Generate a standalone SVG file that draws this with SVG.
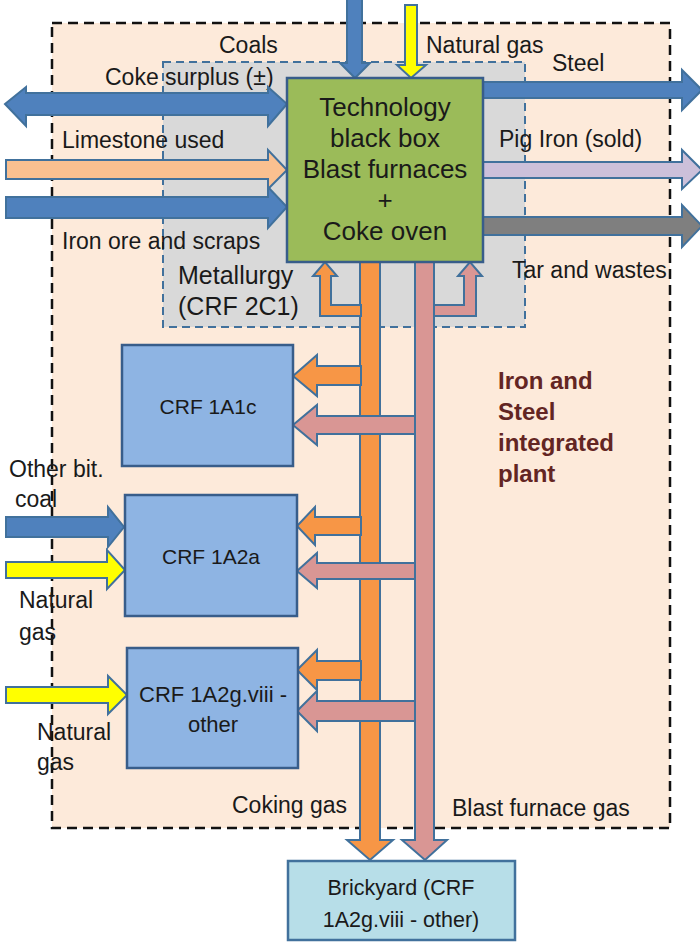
<svg xmlns="http://www.w3.org/2000/svg" width="700" height="945" viewBox="0 0 700 945">
<style>
text{font-family:"Liberation Sans",Arial,sans-serif;fill:#1a1a1a;font-size:23px}
.ar{stroke:#41719C;stroke-width:2;stroke-linejoin:miter}
.blue{fill:#4F81BD}.org{fill:#F79646}.pink{fill:#D99694}.peach{fill:#FAC090}
.lav{fill:#CCC0DA}.gray{fill:#7F7F7F}.yel{fill:#FFFF00}
.box{fill:#8EB4E3;stroke:#385D8A;stroke-width:2.5}
.c{text-anchor:middle}
.bold{font-weight:bold;fill:#632523;font-size:24px}
.big{font-size:25px}
</style>
<rect width="700" height="945" fill="#ffffff"/>
<g id="plant">
<rect x="52" y="23" width="618" height="805" fill="#FDEADA" stroke="#111" stroke-width="2.5" stroke-dasharray="10,6"/>
<text class="bold" x="498" y="389">Iron and</text>
<text class="bold" x="498" y="420">Steel</text>
<text class="bold" x="498" y="451">integrated</text>
<text class="bold" x="498" y="482">plant</text>
</g>
<g id="metallurgy">
<rect x="163" y="62" width="362" height="265" fill="#D9D9D9" stroke="#41719C" stroke-width="2" stroke-dasharray="8,5"/>
<text class="big" x="178" y="284">Metallurgy</text>
<text class="big" x="178" y="315">(CRF 2C1)</text>
</g>
<g id="labels">
<text x="219" y="53">Coals</text>
<text x="426" y="53">Natural gas</text>
<text x="105" y="85">Coke surplus (±)</text>
<text x="62" y="148">Limestone used</text>
<text x="62" y="249">Iron ore and scraps</text>
<text x="552" y="71">Steel</text>
<text x="499" y="147">Pig Iron (sold)</text>
<text x="512" y="278">Tar and wastes</text>
<text x="9" y="477">Other bit.</text>
<text x="15" y="507">coal</text>
<text x="19" y="608">Natural</text>
<text x="19" y="640">gas</text>
<text x="37" y="740">Natural</text>
<text x="37" y="770">gas</text>
<text x="232" y="813">Coking gas</text>
<text x="452" y="816">Blast furnace gas</text>
</g>
<g id="connectors">
<polygon class="ar blue" points="347,-3 362,-3 362,63 370,63 355,78 340,63 347,63"/>
<polygon class="ar yel" points="405,5 417,5 417,65 426,65 411,78 397,65 405,65"/>
<polygon class="ar blue" points="5,104 26,87 26,93 268,93 268,87 287,104 268,126 268,115 26,115 26,126"/>
<polygon class="ar peach" points="6,160 268,160 268,150 287,170 268,189 268,179 6,179"/>
<polygon class="ar blue" points="6,197 268,197 268,187 287,207 268,228 268,218 6,218"/>
<polygon class="ar blue" points="483,82 682,82 682,70 702,90 682,110 682,98 483,98"/>
<polygon class="ar lav" points="483,162 682,162 682,150 702,170 682,189 682,178 483,178"/>
<polygon class="ar gray" points="483,217 682,217 682,205 702,226 682,247 682,235 483,235"/>
<polygon class="ar blue" points="6,517 108,517 108,507 124,527 108,547 108,537 6,537"/>
<polygon class="ar yel" points="6,562 107,562 107,550 125,570 107,589 107,578 6,578"/>
<polygon class="ar yel" points="6,687 108,687 108,676 127,695 108,714 108,703 6,703"/>
<polygon class="ar org" points="360,262 380,262 380,840 393,840 370,860 347,840 360,840"/>
<polygon class="ar org" points="361,305 331,305 331,276 337,276 325,262 313,276 320,276 320,316 361,316"/>
<polygon class="ar org" points="361,366 317,366 317,355 293,376 317,396 317,385 361,385"/>
<polygon class="ar org" points="361,517 315,517 315,507 297,526 315,545 315,535 361,535"/>
<polygon class="ar org" points="361,661 317,661 317,650 297,670 317,690 317,680 361,680"/>
<polygon class="ar pink" points="415,416 317,416 317,405 293,425 317,445 317,434 415,434"/>
<polygon class="ar pink" points="415,563 317,563 317,553 297,571 317,588 317,579 415,579"/>
<polygon class="ar pink" points="416,701 317,701 317,691 297,711 317,731 317,721 416,721"/>
<polygon class="ar pink" points="433,305 464,305 464,276 458,276 470,262 482,276 476,276 476,316 433,316"/>
<polygon class="ar pink" points="415,262 434,262 434,840 447,840 425,860 402,840 415,840"/>
</g>
<g id="blackbox">
<rect x="287" y="78" width="196" height="184" fill="#9BBB59" stroke="#385D8A" stroke-width="2.5"/>
<text class="c" x="385" y="116" style="font-size:26px">Technology</text>
<text class="c" x="385" y="147" style="font-size:26px">black box</text>
<text class="c" x="385" y="178" style="font-size:26px">Blast furnaces</text>
<text class="c" x="385" y="209" style="font-size:26px">+</text>
<text class="c" x="385" y="240" style="font-size:26px">Coke oven</text>
</g>
<g id="crf1a1c">
<rect class="box" x="122" y="345" width="171" height="121"/>
<text class="c" x="208" y="414" style="font-size:21px">CRF 1A1c</text>
</g>
<g id="crf1a2a">
<rect class="box" x="125" y="495" width="172" height="121"/>
<text class="c" x="211" y="564" style="font-size:21px">CRF 1A2a</text>
</g>
<g id="crf1a2g">
<rect class="box" x="127" y="648" width="171" height="120"/>
<text class="c" x="213" y="702" style="font-size:22px">CRF 1A2g.viii -</text>
<text class="c" x="213" y="732" style="font-size:22px">other</text>
</g>
<g id="brickyard">
<rect x="288" y="861" width="227" height="79" fill="#B7DEE8" stroke="#41719C" stroke-width="2.5"/>
<text class="c" x="401" y="895" style="font-size:21.5px">Brickyard (CRF</text>
<text class="c" x="401" y="927" style="font-size:21.5px">1A2g.viii - other)</text>
</g>
</svg>
